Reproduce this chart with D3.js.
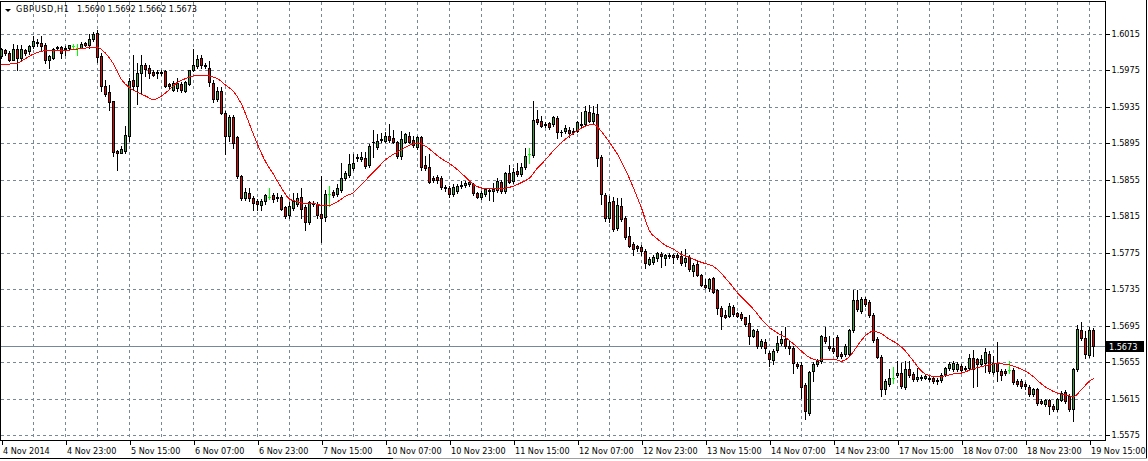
<!DOCTYPE html>
<html><head><meta charset="utf-8">
<script src="https://cdn.jsdelivr.net/npm/d3@7"></script>
<style>
html,body{margin:0;padding:0;background:#fff;overflow:hidden;}
svg{display:block;}
text{font-family:"DejaVu Sans Condensed","DejaVu Sans","Liberation Sans",sans-serif;font-size:9px;fill:#000;}
</style></head><body>
<svg id="c" width="1148" height="461"></svg>
<script>
// ---------- DATA ----------
const symbolTitle = "GBPUSD,H1";
const titleValues = "1.5690 1.5692 1.5662 1.5673";
const lastPrice = 1.5673;

const openP = [
1.5991,1.5997,1.5994,1.5987,1.5998,1.5989,1.5997,1.5996,1.6002,1.6006,
1.6005,1.6003,1.5986,1.5989,1.6001,1.6001,1.5998,1.6000,1.6002,1.6000,
1.6000,1.6005,1.6003,1.6009,1.6016,1.5991,1.5958,1.5951,1.5941,1.5887,
1.5884,1.5887,1.5903,1.5964,1.5958,1.5972,1.5981,1.5978,1.5973,1.5973,
1.5973,1.5974,1.5960,1.5954,1.5956,1.5960,1.5953,1.5960,1.5976,1.5980,
1.5989,1.5981,1.5978,1.5961,1.5944,1.5953,1.5928,1.5903,1.5924,1.5902,
1.5859,1.5835,1.5840,1.5835,1.5832,1.5827,1.5832,1.5836,1.5838,1.5836,
1.5836,1.5825,1.5816,1.5824,1.5828,1.5836,1.5825,1.5809,1.5830,1.5828,
1.5818,1.5814,1.5839,1.5842,1.5839,1.5844,1.5857,1.5860,1.5868,1.5880,
1.5878,1.5879,1.5871,1.5897,1.5891,1.5899,1.5898,1.5903,1.5901,1.5896,
1.5881,1.5897,1.5903,1.5899,1.5891,1.5902,1.5871,1.5869,1.5857,1.5858,
1.5857,1.5847,1.5846,1.5839,1.5843,1.5849,1.5849,1.5850,1.5850,1.5840,
1.5836,1.5839,1.5844,1.5843,1.5844,1.5853,1.5843,1.5862,1.5854,1.5865,
1.5861,1.5869,1.5883,1.5882,1.5922,1.5920,1.5916,1.5917,1.5916,1.5923,
1.5908,1.5909,1.5910,1.5907,1.5909,1.5916,1.5916,1.5929,1.5919,1.5927,
1.5880,1.5838,1.5813,1.5832,1.5802,1.5826,1.5813,1.5793,1.5785,1.5782,
1.5781,1.5777,1.5763,1.5765,1.5769,1.5774,1.5769,1.5773,1.5772,1.5772,
1.5771,1.5765,1.5770,1.5755,1.5763,1.5751,1.5740,1.5736,1.5747,1.5734,
1.5714,1.5707,1.5706,1.5715,1.5709,1.5708,1.5704,1.5698,1.5684,1.5689,
1.5673,1.5677,1.5665,1.5657,1.5668,1.5676,1.5680,1.5673,1.5671,1.5653,
1.5652,1.5630,1.5599,1.5645,1.5653,1.5656,1.5683,1.5673,1.5670,1.5682,
1.5664,1.5664,1.5664,1.5690,1.5723,1.5711,1.5724,1.5721,1.5707,1.5680,
1.5661,1.5626,1.5631,1.5638,1.5641,1.5643,1.5628,1.5647,1.5642,1.5636,
1.5639,1.5637,1.5638,1.5637,1.5635,1.5635,1.5642,1.5648,1.5647,1.5647,
1.5651,1.5649,1.5648,1.5659,1.5658,1.5653,1.5654,1.5664,1.5644,1.5654,
1.5645,1.5645,1.5646,1.5646,1.5634,1.5634,1.5631,1.5628,1.5620,1.5625,
1.5612,1.5609,1.5613,1.5607,1.5603,1.5613,1.5622,1.5618,1.5603,1.5647,
1.5690,1.5681,1.5663,1.5690];

const highP = [
1.6000,1.5998,1.5996,1.6004,1.6003,1.6003,1.5999,1.6003,1.6013,1.6009,
1.6013,1.6005,1.5992,1.6000,1.6002,1.6002,1.6002,1.6003,1.6004,1.6004,
1.6006,1.6006,1.6015,1.6017,1.6019,1.5994,1.5965,1.5959,1.5941,1.5888,
1.5892,1.5914,1.5967,1.5992,1.5983,1.5992,1.5983,1.5981,1.5976,1.5976,
1.5975,1.5975,1.5961,1.5963,1.5967,1.5962,1.5963,1.5976,1.5998,1.5992,
1.5992,1.5983,1.5985,1.5964,1.5957,1.5957,1.5931,1.5926,1.5926,1.5903,
1.5860,1.5846,1.5846,1.5837,1.5834,1.5834,1.5839,1.5846,1.5840,1.5840,
1.5838,1.5826,1.5831,1.5840,1.5840,1.5846,1.5827,1.5832,1.5832,1.5831,
1.5859,1.5844,1.5848,1.5844,1.5850,1.5873,1.5865,1.5883,1.5883,1.5883,
1.5885,1.5886,1.5894,1.5910,1.5905,1.5906,1.5908,1.5916,1.5910,1.5898,
1.5909,1.5906,1.5908,1.5903,1.5903,1.5903,1.5881,1.5883,1.5859,1.5860,
1.5859,1.5849,1.5848,1.5850,1.5850,1.5854,1.5854,1.5855,1.5852,1.5842,
1.5843,1.5846,1.5846,1.5852,1.5857,1.5855,1.5864,1.5871,1.5868,1.5874,
1.5873,1.5890,1.5890,1.5942,1.5932,1.5925,1.5918,1.5918,1.5925,1.5925,
1.5910,1.5915,1.5913,1.5912,1.5920,1.5929,1.5936,1.5937,1.5936,1.5938,
1.5882,1.5840,1.5837,1.5836,1.5835,1.5835,1.5815,1.5803,1.5787,1.5784,
1.5783,1.5779,1.5770,1.5772,1.5776,1.5776,1.5774,1.5775,1.5774,1.5775,
1.5777,1.5779,1.5773,1.5764,1.5766,1.5752,1.5746,1.5747,1.5748,1.5735,
1.5716,1.5712,1.5720,1.5718,1.5710,1.5710,1.5705,1.5707,1.5691,1.5691,
1.5680,1.5680,1.5667,1.5669,1.5684,1.5689,1.5694,1.5678,1.5673,1.5655,
1.5655,1.5632,1.5645,1.5655,1.5658,1.5685,1.5693,1.5684,1.5681,1.5685,
1.5666,1.5675,1.5691,1.5734,1.5734,1.5726,1.5726,1.5723,1.5709,1.5682,
1.5663,1.5636,1.5647,1.5650,1.5656,1.5654,1.5656,1.5656,1.5644,1.5648,
1.5641,1.5642,1.5640,1.5639,1.5637,1.5643,1.5650,1.5655,1.5656,1.5655,
1.5653,1.5651,1.5664,1.5668,1.5660,1.5663,1.5670,1.5667,1.5662,1.5677,
1.5647,1.5647,1.5656,1.5648,1.5636,1.5636,1.5633,1.5630,1.5627,1.5627,
1.5614,1.5615,1.5615,1.5609,1.5616,1.5623,1.5624,1.5620,1.5649,1.5696,
1.5699,1.5689,1.5693,1.5692];

const lowP = [
1.5989,1.5992,1.5985,1.5986,1.5976,1.5985,1.5992,1.5993,1.6000,1.6002,
1.5997,1.5983,1.5978,1.5988,1.5998,1.5989,1.5992,1.5998,1.5999,1.5992,
1.6000,1.6002,1.6000,1.6007,1.5984,1.5952,1.5947,1.5932,1.5881,1.5866,
1.5884,1.5884,1.5898,1.5955,1.5938,1.5950,1.5969,1.5967,1.5969,1.5967,
1.5970,1.5957,1.5955,1.5952,1.5953,1.5951,1.5951,1.5959,1.5974,1.5978,
1.5978,1.5978,1.5958,1.5940,1.5942,1.5927,1.5883,1.5898,1.5890,1.5857,
1.5833,1.5833,1.5832,1.5822,1.5822,1.5822,1.5829,1.5834,1.5831,1.5832,
1.5822,1.5813,1.5813,1.5822,1.5826,1.5813,1.5800,1.5806,1.5826,1.5813,
1.5787,1.5810,1.5826,1.5836,1.5837,1.5842,1.5855,1.5858,1.5866,1.5876,
1.5876,1.5868,1.5869,1.5880,1.5889,1.5897,1.5896,1.5897,1.5895,1.5879,
1.5878,1.5895,1.5895,1.5891,1.5889,1.5866,1.5866,1.5851,1.5853,1.5852,
1.5845,1.5843,1.5836,1.5837,1.5841,1.5846,1.5847,1.5848,1.5838,1.5835,
1.5834,1.5837,1.5833,1.5832,1.5842,1.5841,1.5841,1.5851,1.5852,1.5859,
1.5859,1.5867,1.5873,1.5880,1.5916,1.5913,1.5913,1.5911,1.5914,1.5901,
1.5903,1.5906,1.5902,1.5905,1.5907,1.5912,1.5914,1.5918,1.5917,1.5870,
1.5828,1.5810,1.5809,1.5799,1.5800,1.5810,1.5790,1.5781,1.5773,1.5777,
1.5773,1.5758,1.5761,1.5763,1.5766,1.5759,1.5762,1.5769,1.5764,1.5768,
1.5762,1.5760,1.5755,1.5749,1.5749,1.5739,1.5736,1.5733,1.5731,1.5708,
1.5691,1.5703,1.5704,1.5706,1.5704,1.5701,1.5695,1.5675,1.5682,1.5671,
1.5671,1.5665,1.5651,1.5653,1.5666,1.5674,1.5671,1.5664,1.5643,1.5649,
1.5616,1.5593,1.5597,1.5634,1.5651,1.5654,1.5676,1.5668,1.5665,1.5660,
1.5660,1.5662,1.5662,1.5688,1.5711,1.5709,1.5717,1.5705,1.5677,1.5660,
1.5618,1.5620,1.5629,1.5632,1.5639,1.5627,1.5626,1.5639,1.5634,1.5634,
1.5635,1.5636,1.5634,1.5632,1.5631,1.5633,1.5640,1.5646,1.5645,1.5645,
1.5644,1.5645,1.5646,1.5628,1.5629,1.5651,1.5644,1.5643,1.5642,1.5634,
1.5635,1.5641,1.5643,1.5631,1.5629,1.5627,1.5626,1.5618,1.5618,1.5608,
1.5609,1.5607,1.5598,1.5601,1.5601,1.5612,1.5610,1.5601,1.5590,1.5645,
1.5679,1.5660,1.5661,1.5662];

const closeP = [
1.5998,1.5994,1.5986,1.5999,1.5989,1.5998,1.5994,1.6002,1.6007,1.6005,
1.6002,1.5987,1.5991,1.5999,1.6000,1.5994,1.6000,1.6003,1.6002,1.6000,
1.6004,1.6003,1.6010,1.6015,1.5990,1.5958,1.5949,1.5940,1.5886,1.5884,
1.5889,1.5904,1.5963,1.5958,1.5972,1.5981,1.5977,1.5972,1.5970,1.5972,
1.5972,1.5958,1.5958,1.5961,1.5961,1.5954,1.5962,1.5975,1.5981,1.5988,
1.5981,1.5980,1.5962,1.5944,1.5953,1.5928,1.5903,1.5924,1.5895,1.5859,
1.5835,1.5842,1.5835,1.5830,1.5828,1.5832,1.5838,1.5836,1.5834,1.5835,
1.5823,1.5815,1.5826,1.5832,1.5835,1.5823,1.5809,1.5831,1.5828,1.5816,
1.5813,1.5839,1.5839,1.5838,1.5846,1.5857,1.5862,1.5872,1.5873,1.5879,
1.5880,1.5870,1.5892,1.5896,1.5898,1.5900,1.5903,1.5899,1.5897,1.5881,
1.5900,1.5905,1.5897,1.5893,1.5902,1.5869,1.5868,1.5853,1.5855,1.5855,
1.5847,1.5846,1.5839,1.5847,1.5848,1.5848,1.5852,1.5853,1.5840,1.5836,
1.5841,1.5845,1.5843,1.5845,1.5854,1.5843,1.5862,1.5853,1.5864,1.5861,
1.5869,1.5881,1.5883,1.5921,1.5918,1.5914,1.5915,1.5913,1.5924,1.5907,
1.5907,1.5912,1.5906,1.5909,1.5918,1.5915,1.5930,1.5920,1.5928,1.5879,
1.5839,1.5813,1.5831,1.5801,1.5827,1.5812,1.5792,1.5782,1.5779,1.5780,
1.5777,1.5764,1.5768,1.5770,1.5775,1.5771,1.5772,1.5771,1.5770,1.5770,
1.5764,1.5769,1.5757,1.5762,1.5751,1.5740,1.5737,1.5746,1.5732,1.5714,
1.5706,1.5705,1.5717,1.5708,1.5706,1.5703,1.5697,1.5684,1.5690,1.5673,
1.5678,1.5671,1.5658,1.5667,1.5676,1.5680,1.5673,1.5671,1.5654,1.5651,
1.5628,1.5601,1.5644,1.5653,1.5656,1.5684,1.5678,1.5670,1.5667,1.5662,
1.5662,1.5673,1.5690,1.5723,1.5713,1.5724,1.5719,1.5707,1.5679,1.5661,
1.5625,1.5634,1.5638,1.5638,1.5643,1.5629,1.5647,1.5641,1.5636,1.5639,
1.5637,1.5640,1.5636,1.5634,1.5634,1.5641,1.5648,1.5653,1.5654,1.5653,
1.5646,1.5647,1.5660,1.5647,1.5653,1.5658,1.5666,1.5645,1.5654,1.5645,
1.5641,1.5643,1.5646,1.5633,1.5631,1.5629,1.5629,1.5620,1.5625,1.5610,
1.5610,1.5613,1.5607,1.5603,1.5614,1.5621,1.5612,1.5603,1.5647,1.5691,
1.5681,1.5664,1.5690,1.5673];

const maBars = [0,2,4,6,8,10,12,14,16,18,20,22,24,26,28,30,32,34,36,38,
40,42,44,46,48,50,52,54,56,58,60,62,64,66,68,70,72,74,76,78,
80,82,84,86,88,90,92,94,96,98,100,102,104,106,108,110,112,114,116,118,
120,122,124,126,128,130,132,134,136,138,140,142,144,146,148,150,152,154,156,158,
160,162,164,166,168,170,172,174,176,178,180,182,184,186,188,190,192,194,196,198,
200,202,204,206,208,210,212,214,216,218,220,222,224,226,228,230,232,234,236,238,
240,242,244,246,248,250,252,254,256,258,260,262,264,266,268,270,272,273];
const maValues = [
1.5981,1.5982,1.5983,1.5988,1.5993,1.5996,1.5997,1.5997,1.5997,1.5998,
1.5999,1.6000,1.6000,1.5994,1.5982,1.5965,1.5956,1.5951,1.5947,1.5943,
1.5947,1.5954,1.5962,1.5966,1.5969,1.5970,1.5969,1.5966,1.5959,1.5952,
1.5938,1.5916,1.5894,1.5875,1.5861,1.5846,1.5834,1.5831,1.5829,1.5829,
1.5827,1.5827,1.5831,1.5837,1.5841,1.5850,1.5859,1.5868,1.5877,1.5883,
1.5888,1.5893,1.5895,1.5892,1.5885,1.5878,1.5873,1.5866,1.5858,1.5850,
1.5846,1.5845,1.5845,1.5846,1.5848,1.5852,1.5857,1.5868,1.5877,1.5887,
1.5896,1.5903,1.5909,1.5914,1.5916,1.5908,1.5896,1.5883,1.5866,1.5846,
1.5824,1.5799,1.5790,1.5783,1.5779,1.5773,1.5770,1.5766,1.5763,1.5760,
1.5752,1.5742,1.5731,1.5722,1.5713,1.5702,1.5693,1.5687,1.5682,1.5675,
1.5667,1.5660,1.5657,1.5658,1.5658,1.5656,1.5661,1.5673,1.5684,1.5689,
1.5686,1.5680,1.5675,1.5667,1.5656,1.5645,1.5640,1.5639,1.5640,1.5642,
1.5643,1.5646,1.5649,1.5651,1.5653,1.5653,1.5652,1.5649,1.5645,1.5639,
1.5631,1.5625,1.5621,1.5619,1.5617,1.5625,1.5634,1.5637];

const priceTicks = [1.6015,1.5975,1.5935,1.5895,1.5855,1.5815,1.5775,1.5735,1.5695,1.5655,1.5615,1.5575];
const timeTickBars = [0,16,32,48,64,80,96,112,128,144,160,176,192,208,224,240,256,272];
const timeTickLabels = ["4 Nov 2014","4 Nov 23:00","5 Nov 15:00","6 Nov 07:00","6 Nov 23:00","7 Nov 15:00",
"10 Nov 07:00","10 Nov 23:00","11 Nov 15:00","12 Nov 07:00","12 Nov 23:00","13 Nov 15:00",
"14 Nov 07:00","14 Nov 23:00","17 Nov 15:00","18 Nov 07:00","18 Nov 23:00","19 Nov 15:00"];

// ---------- DRAW ----------
const svg = d3.select("#c");
const PR = 1105, AX = 440;
const GRID = "#778899", BULL = "#3ca03c", BEAR = "#e60000", DOJI = "#00ff00";
const x = d3.scaleLinear().domain([0, 273]).range([1.5, 1093.5]);
const y = d3.scaleLinear().domain([1.5575, 1.6015]).range([435, 34]);
const py = v => Math.round(y(v)) + 0.5;

const g = svg.append("g").attr("shape-rendering","crispEdges");

// vertical grid every 8 bars
const vBars = d3.range(8, 273, 8);
g.selectAll(".vg").data(vBars).enter().append("line")
  .attr("x1", d => x(d)).attr("x2", d => x(d)).attr("y1", 2).attr("y2", AX)
  .attr("stroke", GRID).attr("stroke-dasharray", "3,3");
// horizontal grid
g.selectAll(".hg").data(priceTicks).enter().append("line")
  .attr("x1", 1).attr("x2", PR).attr("y1", d => py(d)).attr("y2", d => py(d))
  .attr("stroke", GRID).attr("stroke-dasharray", "3,3");

// last price line
g.append("line").attr("x1",1).attr("x2",PR).attr("y1",py(lastPrice)).attr("y2",py(lastPrice)).attr("stroke",GRID);

// candles
const idx = d3.range(openP.length);
const cg = g.append("g");
idx.forEach(i => {
  const o = openP[i], c = closeP[i], hi = Math.max(highP[i], o, c), lo = Math.min(lowP[i], o, c);
  const cx = x(i);
  const doji = o === c;
  const col = doji ? DOJI : "#000";
  cg.append("line").attr("x1", cx).attr("x2", cx)
    .attr("y1", Math.round(y(hi))).attr("y2", Math.round(y(lo)) + 1).attr("stroke", col);
  const top = Math.round(y(Math.max(o, c))), bot = Math.round(y(Math.min(o, c)));
  if (doji || bot - top < 2) {
    cg.append("line").attr("x1", cx - 1.5).attr("x2", cx + 1.5)
      .attr("y1", top + 0.5).attr("y2", top + 0.5).attr("stroke", col);
    if (!doji && bot - top === 1) cg.append("line").attr("x1", cx - 1.5).attr("x2", cx + 1.5)
      .attr("y1", bot + 0.5).attr("y2", bot + 0.5).attr("stroke", col);
  } else {
    cg.append("rect").attr("x", cx - 1).attr("y", top + 0.5)
      .attr("width", 2).attr("height", bot - top)
      .attr("fill", c > o ? BULL : BEAR).attr("stroke", "#000");
  }
});

// moving average
const ma = d3.line().x((d, k) => x(maBars[k])).y(d => y(d)).curve(d3.curveMonotoneX);
svg.append("path").attr("d", ma(maValues)).attr("fill","none").attr("stroke","#ff0000")
  .attr("stroke-width",1).attr("shape-rendering","crispEdges");

// frames
const fg = svg.append("g").attr("shape-rendering","crispEdges");
fg.append("rect").attr("x",0.5).attr("y",1.5).attr("width",PR).attr("height",AX-1).attr("fill","none").attr("stroke","#000");
fg.append("line").attr("x1",1146.5).attr("x2",1146.5).attr("y1",0).attr("y2",459).attr("stroke","#000");
fg.append("line").attr("x1",0).attr("x2",393).attr("y1",458.5).attr("y2",458.5).attr("stroke","#000");
fg.append("line").attr("x1",393).attr("x2",1147).attr("y1",458.5).attr("y2",458.5).attr("stroke","#a0a0a0");

// price axis
const yAxis = d3.axisRight(y).tickValues(priceTicks).tickSize(4).tickPadding(2).tickFormat(d3.format(".4f"));
const ya = svg.append("g").attr("transform", `translate(${PR + 0.5},0.5)`).call(yAxis);
ya.select(".domain").remove();
ya.selectAll(".tick").attr("transform", d => `translate(0,${Math.round(y(d))})`);
ya.selectAll(".tick line").attr("stroke","#000").attr("shape-rendering","crispEdges");
ya.selectAll(".tick text").attr("font-family",null).attr("font-size",null).attr("fill","#000");

// last price label
const ly = py(lastPrice);
svg.append("rect").attr("x",1106).attr("y",ly-5.5).attr("width",38).attr("height",11).attr("fill","#000");
svg.append("text").attr("x",1109).attr("y",ly).attr("dy","0.35em").attr("style","fill:#fff").text(d3.format(".4f")(lastPrice));

// time axis
const xAxis = d3.axisBottom(x).tickValues(timeTickBars).tickSize(4).tickPadding(3)
  .tickFormat((d, k) => timeTickLabels[k]);
const xa = svg.append("g").attr("transform", `translate(0,${AX + 0.5})`).call(xAxis);
xa.select(".domain").remove();
xa.selectAll(".tick line").attr("stroke","#000").attr("shape-rendering","crispEdges");
xa.selectAll(".tick text").attr("text-anchor","start").attr("dx", 1).attr("font-family",null).attr("font-size",null).attr("fill","#000");

// title
svg.append("path").attr("d","M5,9L11,9L8,12Z").attr("fill","#000");
svg.append("text").attr("x",16).attr("y",12).attr("textLength",53).attr("lengthAdjust","spacing").text(symbolTitle);
svg.append("text").attr("x",77).attr("y",12).attr("textLength",120).attr("lengthAdjust","spacing").text(titleValues);
</script>
</body></html>
